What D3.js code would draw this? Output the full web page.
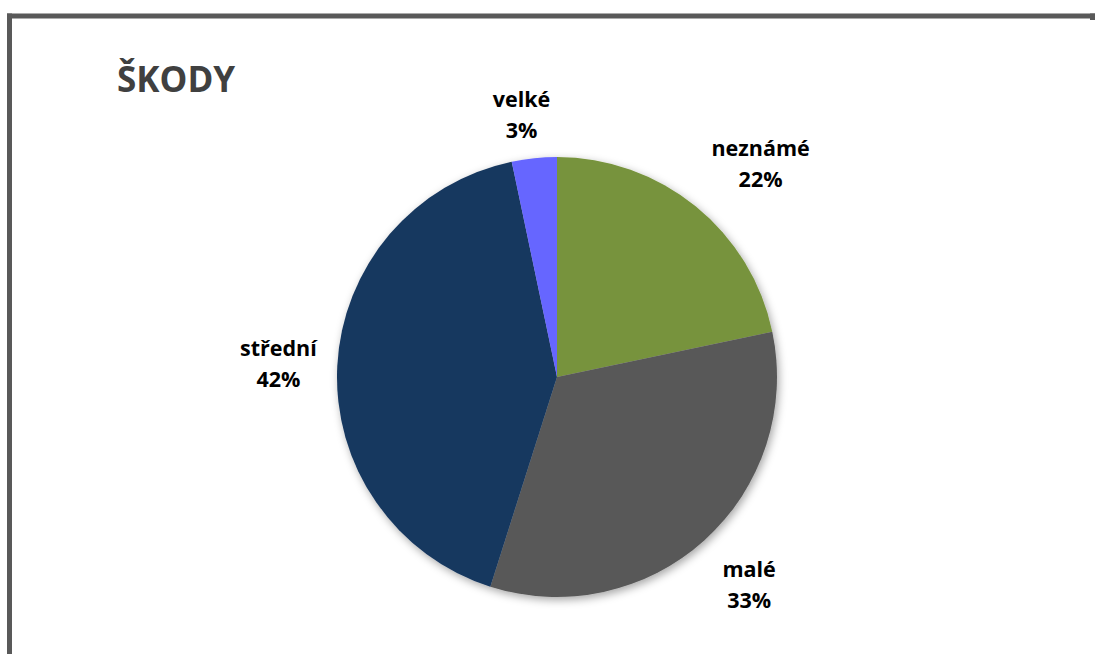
<!DOCTYPE html>
<html>
<head>
<meta charset="utf-8">
<script src="https://cdn.jsdelivr.net/npm/d3@7"></script>
<style>
  html, body { margin: 0; padding: 0; background: #fff; }
  svg { display: block; }
</style>
</head>
<body>
<svg id="chart" width="1095" height="654"></svg>
<script>
const title = "ŠKODY";
const categories = ["neznámé", "malé", "střední", "velké"];
const values = [21.7, 33.2, 41.8, 3.3];
const colors = ["#77933C", "#595959", "#17375E", "#6666FF"];

const W = 1095, H = 654;
const svg = d3.select("#chart");
const font = "'Open Sans', Lato, 'DejaVu Sans', sans-serif";

// shadow filter
const defs = svg.append("defs");
const f = defs.append("filter").attr("id", "sh").attr("x", "-20%").attr("y", "-20%").attr("width", "140%").attr("height", "140%");
f.append("feDropShadow").attr("dx", 2).attr("dy", 3).attr("stdDeviation", 4)
  .attr("flood-color", "#000").attr("flood-opacity", 0.35);

// frame
svg.append("line").attr("x1", 7).attr("x2", W).attr("y1", 16).attr("y2", 16)
  .attr("stroke", "#595959").attr("stroke-width", 5);
svg.append("line").attr("x1", 9.5).attr("x2", 9.5).attr("y1", 13.5).attr("y2", H)
  .attr("stroke", "#595959").attr("stroke-width", 5);
svg.append("line").attr("x1", 1092.5).attr("x2", 1092.5).attr("y1", 13.5).attr("y2", 20)
  .attr("stroke", "#595959").attr("stroke-width", 5);

// title
svg.append("text").attr("x", 117).attr("y", 92).text(title)
  .attr("font-family", font).attr("font-weight", "bold").attr("font-size", 35)
  .attr("fill", "#404040");

const cx = 557, cy = 377, R = 220, LR = 285;
const total = d3.sum(values);
const data = categories.map((c, i) => ({ name: c, value: values[i], color: colors[i] }));
const pie = d3.pie().sort(null).value(d => d.value).startAngle(0).endAngle(2 * Math.PI);
const arcs = pie(data);
const arc = d3.arc().innerRadius(0).outerRadius(R);
const labelArc = d3.arc().innerRadius(LR).outerRadius(LR);
// best-fit nudges for label placement
const nudge = [[24, 16], [1, 4], [6, 9], [-6, 29]];

const g = svg.append("g").attr("transform", `translate(${cx},${cy})`);
g.append("g").attr("filter", "url(#sh)")
  .selectAll("path").data(arcs).join("path")
  .attr("d", arc).attr("fill", d => d.data.color);

const lg = g.append("g");
arcs.forEach((d, i) => {
  const [x0, y0] = labelArc.centroid(d);
  const x = x0 + nudge[i][0], y = y0 + nudge[i][1];
  const t = lg.append("text").attr("text-anchor", "middle")
    .attr("font-family", font).attr("font-weight", "bold").attr("font-size", 21.5)
    .attr("fill", "#000");
  t.append("tspan").attr("x", x).attr("y", y - 15.5).text(d.data.name);
  t.append("tspan").attr("x", x).attr("y", y + 15.5).text(Math.round(d.data.value / total * 100) + "%");
});
</script>
</body>
</html>
